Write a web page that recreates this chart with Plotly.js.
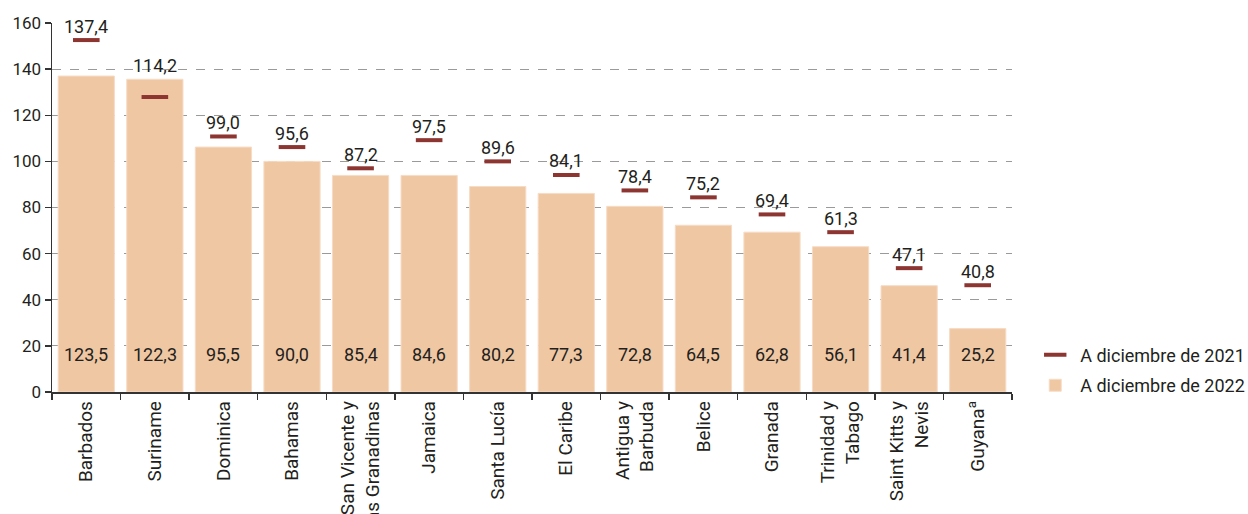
<!DOCTYPE html>
<html>
<head>
<meta charset="utf-8">
<script src="https://cdn.plot.ly/plotly-3.0.1.min.js"></script>
<style>html,body{margin:0;padding:0;background:#fff;}</style>
</head>
<body>
<div id="chart" style="width:1248px;height:514px;"></div>
<script>
// Categories (x axis)
const categories = ["Barbados", "Suriname", "Dominica", "Bahamas", "San Vicente y<br>las Granadinas",
  "Jamaica", "Santa Lucía", "El Caribe", "Antigua y<br>Barbuda", "Belice", "Granada",
  "Trinidad y<br>Tabago", "Saint Kitts y<br>Nevis", "Guyana<sup>a</sup>"];

// Bar heights as drawn against the y axis (A diciembre de 2022)
const values2022 = [137.0, 135.6, 106.2, 100.0, 93.9, 93.9, 89.1, 86.1, 80.5, 72.3, 69.3, 63.0, 46.1, 27.5];
// Marker heights as drawn against the y axis (A diciembre de 2021)
const values2021 = [152.6, 127.9, 110.8, 106.2, 97.0, 109.2, 100.0, 94.1, 87.4, 84.4, 77.0, 69.3, 53.7, 46.3];

// Printed value labels
const labels2022 = ["123,5", "122,3", "95,5", "90,0", "85,4", "84,6", "80,2", "77,3", "72,8", "64,5", "62,8", "56,1", "41,4", "25,2"];
const labels2021 = ["137,4", "114,2", "99,0", "95,6", "87,2", "97,5", "89,6", "84,1", "78,4", "75,2", "69,4", "61,3", "47,1", "40,8"];

const yTicks = [0, 20, 40, 60, 80, 100, 120, 140, 160];

const FONT = 'Roboto, "Liberation Sans", sans-serif';
const TXT = '#231f20';
const FS = 17;

const marks = {
  type: 'scatter',
  mode: 'markers',
  name: 'A diciembre de 2021',
  legendgroup: 'g2021',
  x: categories,
  y: values2021,
  marker: {symbol: 'line-ew', size: 19, color: '#8c3531', line: {color: '#8c3531', width: 4}},
  hoverinfo: 'none'
};

const bars = {
  type: 'bar',
  name: 'A diciembre de 2022',
  legendgroup: 'g2022',
  x: categories,
  y: values2022,
  marker: {color: '#f0c7a3', line: {color: '#f6dcc6', width: 1}},
  hoverinfo: 'none'
};

const annotations = [];
categories.forEach((c, i) => {
  annotations.push({
    x: c, y: Math.max(values2022[i], values2021[i]), xref: 'x', yref: 'y',
    text: labels2021[i], showarrow: false, yanchor: 'middle', yshift: 14,
    font: {family: FONT, size: 18, color: TXT}
  });
  annotations.push({
    x: c, y: 0, xref: 'x', yref: 'y',
    text: labels2022[i], showarrow: false, yanchor: 'middle', yshift: 38,
    font: {family: FONT, size: 18, color: TXT}
  });
});

const layout = {
  width: 1248,
  height: 514,
  margin: {l: 52, r: 236, t: 23, b: 121.5, pad: 0, autoexpand: false},
  paper_bgcolor: '#fff',
  plot_bgcolor: '#fff',
  font: {family: FONT, size: FS, color: TXT},
  bargap: 0.18,
  showlegend: true,
  legend: {
    x: 1.019, y: 0.150, xanchor: 'left', yanchor: 'top',
    traceorder: 'grouped', tracegroupgap: 4,
    font: {family: FONT, size: 18, color: TXT},
    bgcolor: 'rgba(0,0,0,0)', itemwidth: 40
  },
  xaxis: {
    type: 'category', range: [-0.5, 13.5],
    showline: true, linecolor: '#333', linewidth: 1.5,
    ticks: 'outside', tickson: 'boundaries', ticklen: 6, tickcolor: '#333', tickwidth: 1.5,
    tickangle: -90, tickfont: {family: FONT, size: 19, color: TXT},
    showgrid: false, fixedrange: true, automargin: false
  },
  yaxis: {
    range: [0, 160], tickvals: yTicks, ticktext: yTicks.map(String),
    showline: true, linecolor: '#333', linewidth: 1.5,
    ticks: 'outside', ticklen: 6, tickcolor: '#333', tickwidth: 1.5,
    showgrid: true, gridcolor: '#9a9a9a', gridwidth: 1, griddash: 'dash',
    zeroline: false, tickfont: {family: FONT, size: FS, color: TXT},
    fixedrange: true, automargin: false
  },
  annotations: annotations
};

Plotly.newPlot('chart', [marks, bars], layout, {displayModeBar: false, staticPlot: true});
</script>
</body>
</html>
